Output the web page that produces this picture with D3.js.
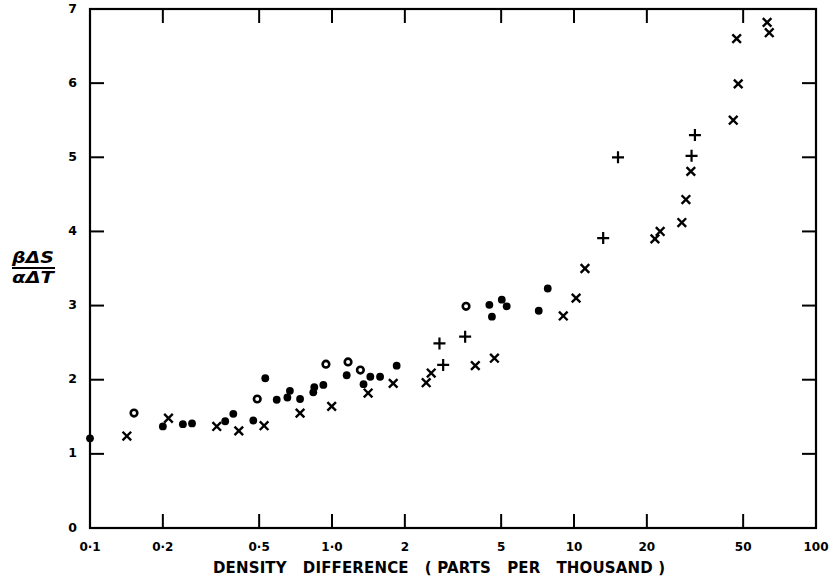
<!DOCTYPE html>
<html>
<head>
<meta charset="utf-8">
<script src="https://cdn.jsdelivr.net/npm/d3@7"></script>
<style>
  body { margin: 0; background: #fff; }
  svg { display: block; font-family: "DejaVu Sans", sans-serif; }
</style>
</head>
<body>
<div id="chart"></div>
<script>
// Data: [density difference (ppt), beta dS / alpha dT]
const dots = [
  [0.1, 1.21], [0.2, 1.37], [0.242, 1.40], [0.264, 1.41], [0.362, 1.44], [0.391, 1.54],
  [0.473, 1.45], [0.53, 2.02], [0.591, 1.73], [0.654, 1.76], [0.67, 1.85], [0.738, 1.74],
  [0.837, 1.83], [0.845, 1.90], [0.921, 1.93], [1.15, 2.06], [1.35, 1.94], [1.44, 2.04],
  [1.58, 2.04], [1.85, 2.19], [4.47, 3.01], [4.58, 2.85], [5.03, 3.08], [5.27, 2.99],
  [7.15, 2.93], [7.79, 3.23]
];
const circles = [
  [0.152, 1.55], [0.491, 1.74], [0.944, 2.21], [1.165, 2.24], [1.31, 2.13], [3.58, 2.99]
];
const crosses = [
  [0.142, 1.24], [0.211, 1.48], [0.334, 1.37], [0.412, 1.31], [0.524, 1.38], [0.738, 1.55],
  [0.997, 1.64], [1.41, 1.82], [1.79, 1.95], [2.45, 1.96], [2.57, 2.09], [3.91, 2.19],
  [4.69, 2.29], [9.03, 2.86], [10.2, 3.10], [11.1, 3.50], [21.6, 3.90], [22.7, 4.00],
  [27.9, 4.12], [29.0, 4.43], [30.4, 4.81], [45.5, 5.50], [47.7, 5.99], [47.0, 6.60],
  [62.8, 6.82], [64.1, 6.68]
];
const pluses = [
  [2.78, 2.49], [2.88, 2.20], [3.55, 2.58], [13.2, 3.91], [15.2, 5.00], [30.6, 5.02], [31.6, 5.30]
];
const xTicks = [0.1, 0.2, 0.5, 1, 2, 5, 10, 20, 50, 100];
const xTickLabels = ["0\u00b71", "0\u00b72", "0\u00b75", "1\u00b70", "2", "5", "10", "20", "50", "100"];
const yTicks = [0, 1, 2, 3, 4, 5, 6, 7];

const W = 833, H = 583;
const margin = { top: 9, right: 17, bottom: 55, left: 90 };
const width = W - margin.left - margin.right;
const height = H - margin.top - margin.bottom;

const svg = d3.select("#chart")
    .append("svg")
    .attr("width", W)
    .attr("height", H);

const g = svg.append("g")
    .attr("transform", `translate(${margin.left},${margin.top})`);

const x = d3.scaleLog().domain([0.1, 100]).range([0, width]);
const y = d3.scaleLinear().domain([0, 7]).range([height, 0]);

const tickLen = 14;
const innerX = xTicks.slice(1, -1);
const innerY = yTicks.slice(1, -1);

// frame
g.append("rect")
    .attr("width", width)
    .attr("height", height)
    .attr("fill", "none")
    .attr("stroke", "#000")
    .attr("stroke-width", 2.2);

// inward ticks on all four sides
g.selectAll(".xb").data(innerX).enter().append("line")
    .attr("x1", d => x(d)).attr("x2", d => x(d))
    .attr("y1", height).attr("y2", height - tickLen);
g.selectAll(".xt").data(innerX).enter().append("line")
    .attr("x1", d => x(d)).attr("x2", d => x(d))
    .attr("y1", 0).attr("y2", tickLen);
g.selectAll(".yl").data(innerY).enter().append("line")
    .attr("y1", d => y(d)).attr("y2", d => y(d))
    .attr("x1", 0).attr("x2", tickLen);
g.selectAll(".yr").data(innerY).enter().append("line")
    .attr("y1", d => y(d)).attr("y2", d => y(d))
    .attr("x1", width).attr("x2", width - tickLen);
g.selectAll("line").attr("stroke", "#000").attr("stroke-width", 2);

// tick labels
g.selectAll(".xl").data(xTicks).enter().append("text")
    .attr("x", d => x(d))
    .attr("y", height + 19)
    .attr("text-anchor", "middle")
    .attr("dominant-baseline", "middle")
    .attr("font-size", 12)
    .attr("font-weight", "bold")
    .text((d, i) => xTickLabels[i]);

g.selectAll(".ylab").data(yTicks).enter().append("text")
    .attr("x", -13)
    .attr("y", d => y(d))
    .attr("text-anchor", "end")
    .attr("dominant-baseline", "middle")
    .attr("font-size", 12.5)
    .attr("font-weight", "bold")
    .text(d => d);

// axis titles
svg.append("text")
    .attr("x", 213)
    .attr("y", 568)
    .attr("dominant-baseline", "middle")
    .attr("font-size", 15)
    .attr("font-weight", "bold")
    .style("white-space", "pre")
    .attr("textLength", 452)
    .attr("lengthAdjust", "spacing")
    .text("DENSITY   DIFFERENCE   ( PARTS   PER   THOUSAND )");

const frac = svg.append("g").attr("font-size", 15).attr("font-weight", "bold")
    .attr("font-style", "italic");
frac.append("text").attr("x", 33).attr("y", 258).attr("text-anchor", "middle")
    .attr("dominant-baseline", "middle").attr("textLength", 42).attr("lengthAdjust", "spacingAndGlyphs")
    .text("\u03b2\u0394S");
frac.append("line").attr("x1", 12).attr("x2", 55).attr("y1", 268).attr("y2", 268)
    .attr("stroke", "#000").attr("stroke-width", 2);
frac.append("text").attr("x", 33).attr("y", 278).attr("text-anchor", "middle")
    .attr("dominant-baseline", "middle").attr("textLength", 42).attr("lengthAdjust", "spacingAndGlyphs")
    .text("\u03b1\u0394T");

// markers
const pts = g.append("g");

pts.selectAll(".dot").data(dots).enter().append("circle")
    .attr("cx", d => x(d[0])).attr("cy", d => y(d[1]))
    .attr("r", 3.9).attr("fill", "#000");

pts.selectAll(".ring").data(circles).enter().append("circle")
    .attr("cx", d => x(d[0])).attr("cy", d => y(d[1]))
    .attr("r", 3.3).attr("fill", "none").attr("stroke", "#000").attr("stroke-width", 2.6);

const xs = 4.3;
pts.selectAll(".cross").data(crosses).enter().append("path")
    .attr("transform", d => `translate(${x(d[0])},${y(d[1])})`)
    .attr("d", `M${-xs},${-xs}L${xs},${xs}M${-xs},${xs}L${xs},${-xs}`)
    .attr("stroke", "#000").attr("stroke-width", 2.4).attr("fill", "none");

const ps = 6;
pts.selectAll(".plus").data(pluses).enter().append("path")
    .attr("transform", d => `translate(${x(d[0])},${y(d[1])})`)
    .attr("d", `M${-ps},0L${ps},0M0,${-ps}L0,${ps}`)
    .attr("stroke", "#000").attr("stroke-width", 2.2).attr("fill", "none");
</script>
</body>
</html>
